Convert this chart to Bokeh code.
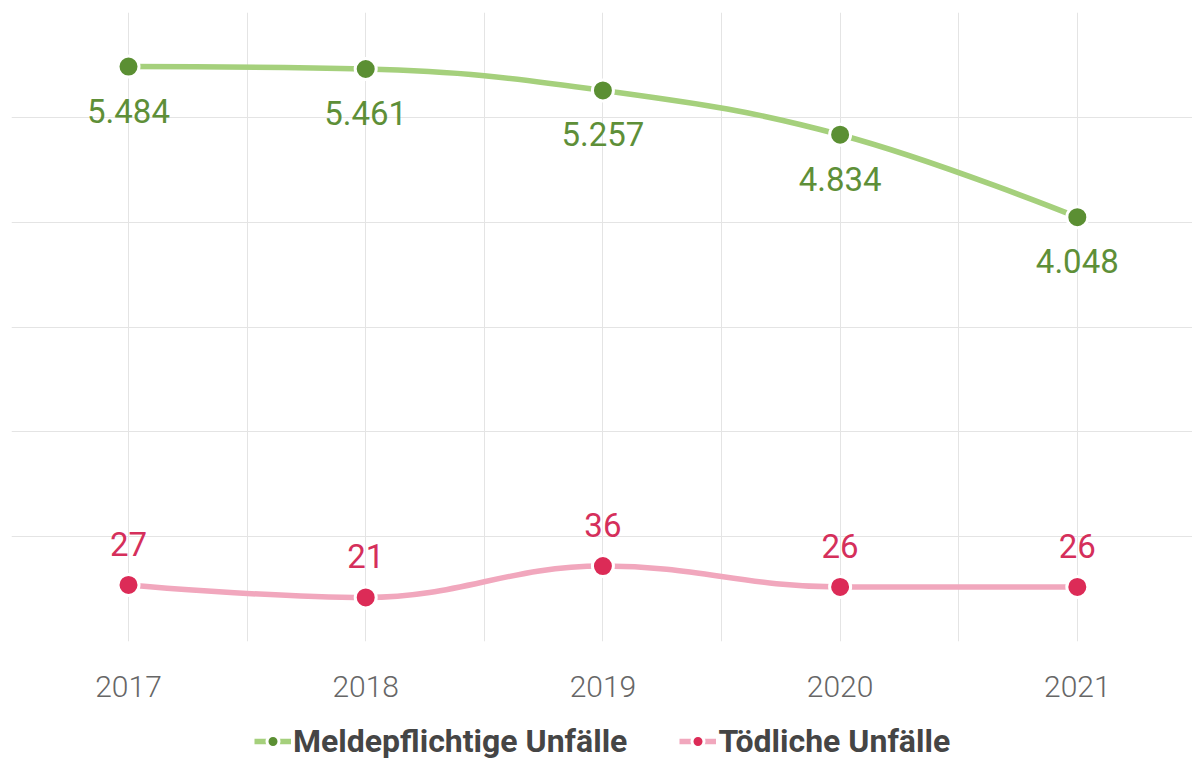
import numpy as np
from bokeh.plotting import figure
from bokeh.layouts import column
from bokeh.models import Range1d, FixedTicker, Legend, LegendItem, ColumnDataSource
from bokeh.core.properties import value
from bokeh.embed import file_html
from bokeh.resources import INLINE

# ---- data ----
years = ["2017", "2018", "2019", "2020", "2021"]
meldepflichtige = [5484, 5461, 5257, 4834, 4048]
toedliche = [27, 21, 36, 26, 26]
labels_meld = ["5.484", "5.461", "5.257", "4.834", "4.048"]
labels_toed = ["27", "21", "36", "26", "26"]
series_names = ["Meldepflichtige Unfälle", "Tödliche Unfälle"]

GREEN_LINE = "#a5d07c"
GREEN_DOT = "#5b8f33"
GREEN_TXT = "#5e8f38"
RED_LINE = "#f1a7bd"
RED_DOT = "#dc2b57"
RED_TXT = "#d52f5b"


def spline_segments(xs, ys, smoothing=1.5):
    """Cubic bezier segments (Highcharts-like spline) through the data points."""
    n = len(xs)
    denom = smoothing + 1
    lc = [(xs[i], ys[i]) for i in range(n)]
    rc = [(xs[i], ys[i]) for i in range(n)]
    for i in range(1, n - 1):
        px, py = xs[i], ys[i]
        lx, ly = xs[i - 1], ys[i - 1]
        nx, ny = xs[i + 1], ys[i + 1]
        lcx = (smoothing * px + lx) / denom
        lcy = (smoothing * py + ly) / denom
        rcx = (smoothing * px + nx) / denom
        rcy = (smoothing * py + ny) / denom
        if rcx != lcx:
            corr = (rcy - lcy) * (rcx - px) / (rcx - lcx) + py - rcy
            lcy += corr
            rcy += corr
            if lcy > ly and lcy > py:
                lcy = max(ly, py); rcy = 2 * py - lcy
            elif lcy < ly and lcy < py:
                lcy = min(ly, py); rcy = 2 * py - lcy
            if rcy > ny and rcy > py:
                rcy = max(ny, py); lcy = 2 * py - rcy
            elif rcy < ny and rcy < py:
                rcy = min(ny, py); lcy = 2 * py - rcy
        lc[i] = (lcx, lcy)
        rc[i] = (rcx, rcy)
    return dict(
        x0=list(xs[:-1]), y0=list(ys[:-1]), x1=list(xs[1:]), y1=list(ys[1:]),
        cx0=[rc[i][0] for i in range(n - 1)], cy0=[rc[i][1] for i in range(n - 1)],
        cx1=[lc[i + 1][0] for i in range(n - 1)], cy1=[lc[i + 1][1] for i in range(n - 1)],
    )


xpos = list(range(len(years)))

p = figure(
    frame_width=1181, frame_height=629,
    x_range=Range1d(-0.4933, 4.4856), y_range=Range1d(0, 6000),
    output_backend="svg", toolbar_location=None,
    y_axis_location=None,
    min_border_left=11, min_border_right=0, min_border_top=12, min_border_bottom=71,
)
p.extra_y_ranges = {"t": Range1d(0, 300)}
p.outline_line_color = None
p.background_fill_color = "white"
p.border_fill_color = "white"

# grids
p.xgrid.ticker = FixedTicker(ticks=list(np.arange(-0.5, len(years) + 0.5, 0.5)))
p.ygrid.ticker = FixedTicker(ticks=list(range(0, 6001, 1000)))
p.xgrid.grid_line_color = "#e4e4e4"
p.ygrid.grid_line_color = "#e4e4e4"
p.xgrid.grid_line_width = 1
p.ygrid.grid_line_width = 1

# x axis
ax = p.xaxis[0]
ax.ticker = FixedTicker(ticks=xpos)
ax.major_label_overrides = {i: y for i, y in enumerate(years)}
ax.axis_line_color = None
ax.major_tick_line_color = None
ax.minor_tick_line_color = None
ax.major_tick_out = 0
ax.major_tick_in = 0
ax.major_label_text_font = "Roboto Light, Roboto"
ax.major_label_text_font_size = "30px"
ax.major_label_text_color = "#666666"
ax.major_label_standoff = 34

# green series
src_g = ColumnDataSource(spline_segments(xpos, meldepflichtige))
p.bezier(x0="x0", y0="y0", x1="x1", y1="y1", cx0="cx0", cy0="cy0", cx1="cx1", cy1="cy1",
         source=src_g, line_color=GREEN_LINE, line_width=5.5)
p.scatter(xpos, meldepflichtige, size=21, fill_color=GREEN_DOT, line_color="white", line_width=3)
p.text(xpos, meldepflichtige, text=labels_meld, text_align="center", text_baseline="middle",
       y_offset=44, text_font=value("Roboto"), text_font_size="33px", text_color=GREEN_TXT)

# red series
src_r = ColumnDataSource(spline_segments(xpos, toedliche))
p.bezier(x0="x0", y0="y0", x1="x1", y1="y1", cx0="cx0", cy0="cy0", cx1="cx1", cy1="cy1",
         source=src_r, line_color=RED_LINE, line_width=5.5, y_range_name="t")
p.scatter(xpos, toedliche, size=21, fill_color=RED_DOT, line_color="white", line_width=3,
          y_range_name="t")
p.text(xpos, toedliche, text=labels_toed, text_align="center", text_baseline="middle",
       y_offset=-41, text_font=value("Roboto"), text_font_size="33px", text_color=RED_TXT,
       y_range_name="t")

# ---- legend strip (separate figure; its series renderers fall outside its view) ----
lg = figure(
    width=1192, height=52, x_range=Range1d(0, 1), y_range=Range1d(0, 1),
    output_backend="svg", toolbar_location=None,
    x_axis_location=None, y_axis_location=None,
    min_border_left=0, min_border_right=0, min_border_top=0, min_border_bottom=0,
)
lg.xgrid.visible = False
lg.ygrid.visible = False
lg.outline_line_color = None
lg.border_fill_color = "white"

items = []
for name, vals, lc_, dc_ in zip(series_names, [meldepflichtige, toedliche],
                                [GREEN_LINE, RED_LINE], [GREEN_DOT, RED_DOT]):
    r_line = lg.line(xpos, vals, line_color=lc_, line_width=5.5)
    r_dot = lg.scatter(xpos, vals, size=21, fill_color=dc_, line_color="white", line_width=3)
    items.append(LegendItem(label=name, renderers=[r_line, r_dot]))

legend = Legend(
    items=items, orientation="horizontal", location=(243, 4),
    glyph_width=37, glyph_height=30, label_standoff=2, spacing=52,
    label_text_font="Roboto", label_text_font_size="32px", label_text_font_style="bold",
    label_text_color="#454545", border_line_color=None, background_fill_alpha=0,
    padding=0, margin=0,
)
lg.add_layout(legend, "center")

layout = column(p, lg, spacing=0)
open("out.html", "w").write(file_html(layout, INLINE))
